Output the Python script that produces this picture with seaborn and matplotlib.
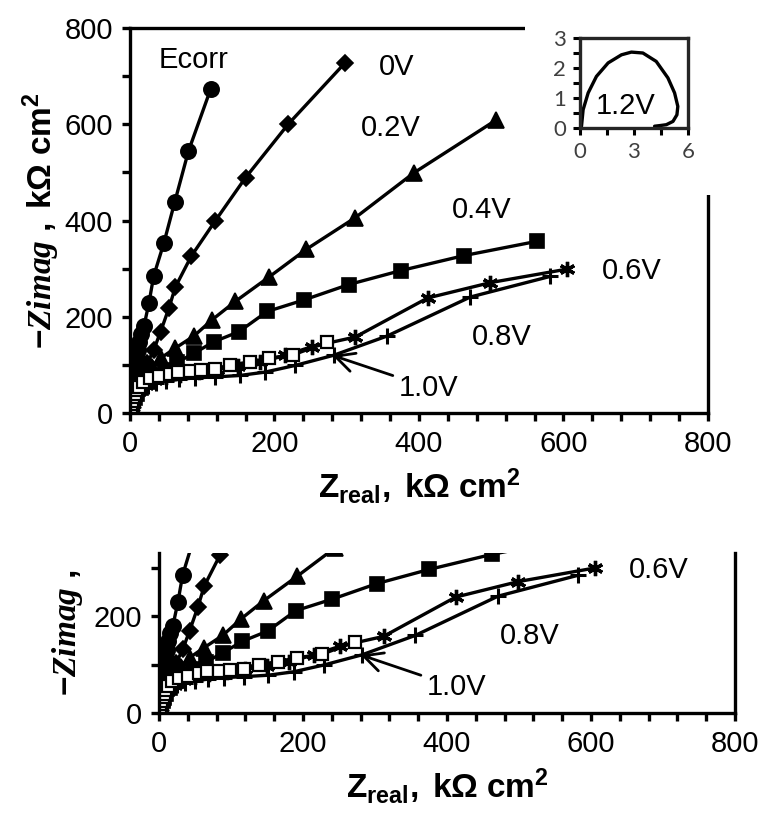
import numpy as np
import pandas as pd
import seaborn as sns
import matplotlib.pyplot as plt
from matplotlib.ticker import MultipleLocator
from matplotlib.patches import Rectangle

# Nyquist data, kOhm cm2
ecorr_x = [0.2, 0.4, 0.7, 1, 1.5, 2, 3, 3.5, 5, 6, 7, 8, 9.5, 11, 12.5, 16, 19.4,
           26.3, 33, 47, 62, 81, 112]
ecorr_y = [3, 6, 10, 15, 22, 30, 40, 50, 62, 75, 88, 100, 112, 130, 148, 165, 180,
           228, 285, 353, 438, 544, 674]

v00_x = [0.5, 1, 2, 3.5, 5, 6.5, 8, 10, 12, 15, 18, 24, 33, 42.5, 54, 63, 85, 118,
         160, 219, 298]
v00_y = [2, 5, 10, 18, 25, 32, 40, 50, 60, 70, 80, 103, 131, 169, 218, 262, 326,
         399, 489, 600, 728]

v02_x = [0.5, 1, 2.5, 4, 5, 6.5, 8, 10, 13, 20, 30, 42.5, 63, 88.6, 114, 146, 192,
         244, 312, 393, 506]
v02_y = [4, 8, 20, 28, 35, 42, 50, 57, 65, 80, 95, 114, 135, 160, 194, 232, 282,
         340, 406, 499, 608]

v04_x = [0.8, 2, 3.5, 5, 7, 10, 16, 25, 35, 48, 65, 88.6, 116, 151, 190, 241, 303,
         375, 462, 564]
v04_y = [6, 12, 18, 25, 32, 40, 52, 65, 78, 90, 105, 124, 148, 169, 211, 235, 267,
         296, 327, 357]

v06_x = [0.8, 2, 4, 6, 9, 12, 22, 35, 50, 70, 95, 120, 150, 180, 215, 252, 312,
         412, 499, 605]
v06_y = [5, 12, 22, 30, 38, 45, 58, 68, 74, 80, 85, 90, 97, 105, 120, 138, 158,
         239, 271, 299]

v08_x = [0.5, 1, 2, 3, 4.5, 6, 8, 10, 16, 25, 36, 50, 68, 90, 118, 152, 187, 229,
         282, 356, 471, 582]
v08_y = [3, 8, 14, 20, 26, 32, 37, 42, 50, 57, 62, 66, 70, 73, 75, 78, 85, 99,
         120, 160, 241, 284]

v10_x = [0.5, 1, 2, 3, 5, 7, 9, 12, 18, 28, 40, 55, 67, 83, 99, 118, 139, 166,
         192, 226, 273]
v10_y = [4, 10, 18, 25, 33, 40, 48, 55, 65, 72, 77, 82, 86, 87, 89, 91, 100, 106,
         114, 121, 147]

# 1.2 V loop for the inset
v12_x = [0.05, 0.09, 0.18, 0.46, 0.92, 1.57, 2.31, 2.86, 3.5, 4.24, 4.89, 5.26,
         5.44, 5.39, 5.17, 4.8, 4.43, 4.15]
v12_y = [0.0, 0.06, 0.61, 1.17, 1.72, 2.17, 2.44, 2.53, 2.5, 2.22, 1.67, 1.17,
         0.72, 0.44, 0.22, 0.11, 0.08, 0.06]

sns.set_style("ticks")
plt.rcParams['font.family'] = ['Liberation Sans', 'DejaVu Sans']
plt.rcParams['mathtext.fontset'] = 'custom'
plt.rcParams['mathtext.rm'] = 'Liberation Sans:bold'
plt.rcParams['mathtext.bf'] = 'Liberation Sans:bold'
plt.rcParams['mathtext.it'] = 'Liberation Serif:italic:bold'
plt.rcParams['text.color'] = 'black'
plt.rcParams['axes.labelcolor'] = 'black'
plt.rcParams['xtick.color'] = 'black'
plt.rcParams['ytick.color'] = 'black'

LW = 2.4
series = [
    (ecorr_x, ecorr_y, dict(marker='o', markersize=11, markerfacecolor='black')),
    (v00_x, v00_y, dict(marker='D', markersize=8, markerfacecolor='black')),
    (v02_x, v02_y, dict(marker='^', markersize=11, markerfacecolor='black')),
    (v04_x, v04_y, dict(marker='s', markersize=10, markerfacecolor='black')),
    (v06_x, v06_y, dict(marker=(6, 2, 0), markersize=11, markeredgewidth=2.4)),
    (v08_x, v08_y, dict(marker='+', markersize=11, markeredgewidth=2.2)),
    (v10_x, v10_y, dict(marker='s', markersize=9, markerfacecolor='white',
                        markeredgewidth=1.6)),
]

labels = [("Ecorr", 40, 733), ("0V", 345, 719), ("0.2V", 320, 592),
          ("0.4V", 446, 421), ("0.6V", 653, 295), ("0.8V", 473, 158)]


def draw_curves(ax):
    for xs, ys, kw in series:
        kw = dict(kw)
        kw.setdefault('markeredgewidth', 1.2)
        df = pd.DataFrame({'x': xs, 'y': ys})
        sns.lineplot(data=df, x='x', y='y', ax=ax, sort=False, estimator=None,
                     color='black', linewidth=LW, markeredgecolor='black', **kw)
    for txt, x, y in labels:
        ax.text(x, y, txt, fontsize=21, ha='left', va='center', clip_on=True)
    ax.annotate("1.0V", xy=(280, 120), xytext=(372, 53), fontsize=21,
                ha='left', va='center', annotation_clip=True,
                arrowprops=dict(arrowstyle='->', color='black', lw=2,
                                shrinkA=2, shrinkB=0, mutation_scale=34))


def style_axis(ax, ytop, ymaj):
    ax.set_xlim(0, 800)
    ax.set_ylim(0, ytop)
    ax.xaxis.set_major_locator(MultipleLocator(200))
    ax.xaxis.set_minor_locator(MultipleLocator(40))
    ax.yaxis.set_major_locator(MultipleLocator(ymaj))
    ax.yaxis.set_minor_locator(MultipleLocator(100))
    ax.tick_params(which='both', direction='out', length=6, width=2.4,
                   labelsize=21, pad=6)
    for s in ax.spines.values():
        s.set_linewidth(2.4)
        s.set_color('black')


fig = plt.figure(figsize=(7.64, 8.19), dpi=100)

# main panel
ax = fig.add_axes([0.170, 0.4957, 0.7567, 0.4701])
draw_curves(ax)
style_axis(ax, 800, 200)
ax.set_xlabel(r"$\mathrm{Z_{real},\ k\Omega\ cm^{2}}$", fontsize=24, labelpad=6)
ax.set_ylabel(r"$\mathrm{-}\mathit{Zimag}\mathrm{\ ,\ k\Omega\ cm^{2}}$",
              fontsize=24, labelpad=2)

# white box where the inset sits
fig.patches.append(Rectangle((0.687, 0.762), 0.313, 0.238, transform=fig.transFigure,
                             facecolor='white', edgecolor='none', zorder=1))

# inset, 1.2 V
axi = fig.add_axes([0.759, 0.8437, 0.1414, 0.1099])
axi.set_zorder(2)
sns.lineplot(x=v12_x, y=v12_y, ax=axi, sort=False, estimator=None,
             color='black', linewidth=2.4)
axi.set_xlim(0, 6)
axi.set_ylim(0, 3)
axi.xaxis.set_major_locator(MultipleLocator(3))
axi.xaxis.set_minor_locator(MultipleLocator(1.5))
axi.yaxis.set_major_locator(MultipleLocator(1))
axi.yaxis.set_minor_locator(MultipleLocator(0.5))
axi.tick_params(which='both', direction='out', length=5, width=2.2, labelsize=16,
                labelcolor='#404040', pad=5)
for lab in axi.get_xticklabels() + axi.get_yticklabels():
    lab.set_family(['Lato', 'DejaVu Sans'])
for s in axi.spines.values():
    s.set_linewidth(2.4)
axi.text(2.55, 0.73, "1.2V", fontsize=21, ha='center', va='center')
axi.set_xlabel('')
axi.set_ylabel('')

# lower panel, zoom on the low-impedance part
ax2 = fig.add_axes([0.208, 0.1294, 0.754, 0.1954])
draw_curves(ax2)
style_axis(ax2, 330, 200)
ax2.spines['top'].set_visible(False)
ax2.set_xlabel(r"$\mathrm{Z_{real},\ k\Omega\ cm^{2}}$", fontsize=24, labelpad=6)
ax2.set_ylabel(r"$\mathrm{-}\mathit{Zimag}\mathrm{\ ,}$", fontsize=24, labelpad=6)

fig.savefig("out.png", dpi=100)
